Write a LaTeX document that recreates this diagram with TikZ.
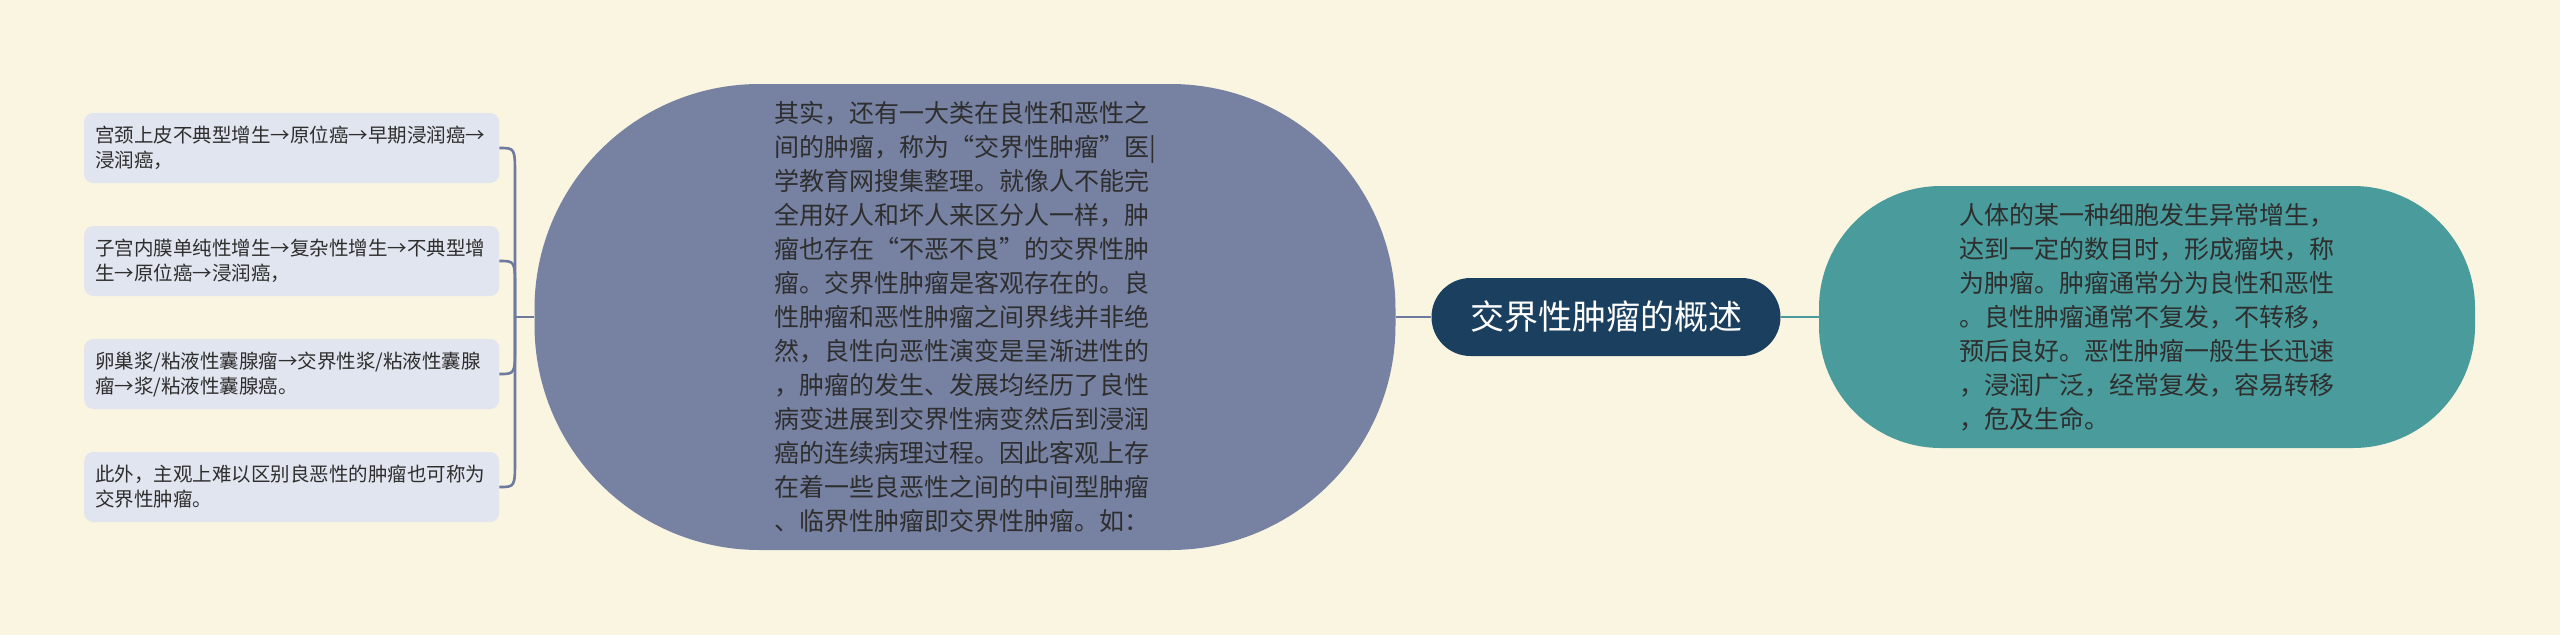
\documentclass[tikz,border=0pt]{standalone}
\usepackage{fontspec}
\setmainfont{Noto Sans CJK SC}
\usepackage{tikz}
\usetikzlibrary{calc}

\definecolor{bgcream}{HTML}{FAF5E0}
\definecolor{leaffill}{HTML}{E1E5EF}
\definecolor{midfill}{HTML}{7782A3}
\definecolor{hubfill}{HTML}{1B3F5F}
\definecolor{rightfill}{HTML}{4A9B9B}
\definecolor{trunkline}{HTML}{6E7A9E}
\definecolor{inkgray}{HTML}{2E2E2E}

\tikzset{
  leaf/.style={fill=leaffill, rounded corners=9pt, text=inkgray, align=left,
    text width=393pt, minimum height=70pt, inner xsep=11pt, anchor=west,
    font={\fontsize{19.5}{25}\selectfont}},
  blob/.style={text=inkgray, align=left, font={\fontsize{25}{34}\selectfont}},
  trunk/.style={draw=trunkline, line width=2.6pt},
}

\begin{document}
\begin{tikzpicture}[x=1pt, y=-1pt]
    \fill[bgcream] (0,0) rectangle (2560,635);
    \useasboundingbox (0,0) rectangle (2560,635);

    % main nodes
    \node[fill=hubfill, text=white, rounded corners=39pt, minimum width=349pt,
          minimum height=78pt, font={\fontsize{34}{40}\selectfont}] at (1606,317) (hub) {交界性肿瘤的概述};
    \node[blob, fill=midfill, rounded corners=225pt, minimum width=861pt,
          minimum height=466pt] at (965,317) (mid) {其实，还有一大类在良性和恶性之\\间的肿瘤，称为“交界性肿瘤”医|\\学教育网搜集整理。就像人不能完\\全用好人和坏人来区分人一样，肿\\瘤也存在“不恶不良”的交界性肿\\瘤。交界性肿瘤是客观存在的。良\\性肿瘤和恶性肿瘤之间界线并非绝\\然，良性向恶性演变是呈渐进性的\\，肿瘤的发生、发展均经历了良性\\病变进展到交界性病变然后到浸润\\癌的连续病理过程。因此客观上存\\在着一些良恶性之间的中间型肿瘤\\、临界性肿瘤即交界性肿瘤。如：};
    \node[blob, fill=rightfill, rounded corners=122pt, minimum width=656pt,
          minimum height=262pt] at (2147,317) (right) {人体的某一种细胞发生异常增生，\\达到一定的数目时，形成瘤块，称\\为肿瘤。肿瘤通常分为良性和恶性\\。良性肿瘤通常不复发，不转移，\\预后良好。恶性肿瘤一般生长迅速\\，浸润广泛，经常复发，容易转移\\，危及生命。};

    % left leaves
    \node[leaf] at (84,148) (b1) {宫颈上皮不典型增生→原位癌→早期浸润癌→\\浸润癌，};
    \node[leaf] at (84,261) (b2) {子宫内膜单纯性增生→复杂性增生→不典型增\\生→原位癌→浸润癌，};
    \node[leaf] at (84,374) (b3) {卵巢浆/粘液性囊腺瘤→交界性浆/粘液性囊腺\\瘤→浆/粘液性囊腺癌。};
    \node[leaf] at (84,487) (b4) {此外，主观上难以区别良恶性的肿瘤也可称为\\交界性肿瘤。};

    \coordinate (fork) at (515,317);

    \draw[trunk] (hub.west) -- (mid.east);
    \draw[draw=rightfill, line width=2.6pt] (hub.east) -- (right.west);
    \draw[trunk] (mid.west) -- (fork);
    \draw[trunk] (fork) -- ($(fork |- b1.east)+(0,28)$) .. controls (fork |- b1.east) .. (b1.east);
    \draw[trunk] (fork) -- ($(fork |- b2.east)+(0,28)$) .. controls (fork |- b2.east) .. (b2.east);
    \draw[trunk] (fork) -- ($(fork |- b3.east)+(0,-28)$) .. controls (fork |- b3.east) .. (b3.east);
    \draw[trunk] (fork) -- ($(fork |- b4.east)+(0,-28)$) .. controls (fork |- b4.east) .. (b4.east);
\end{tikzpicture}
\end{document}
